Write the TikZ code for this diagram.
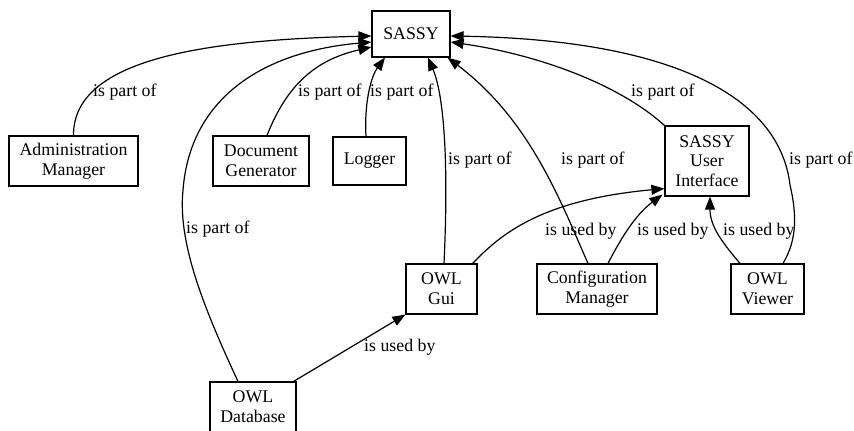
\documentclass[tikz,border=0pt]{standalone}
\usepackage{fontspec}
\setmainfont{Liberation Serif}
\newfontfamily\diagfont{Liberation Serif}
\usetikzlibrary{arrows.meta}
\begin{document}
\begin{tikzpicture}[x=1pt,y=-1pt,
  txt/.style={font=\diagfont\fontsize{17.8}{19.7}\selectfont},
  box/.style={txt, draw, line width=1.2pt, inner sep=0pt, align=center},
  lbl/.style={txt, anchor=west, inner sep=0pt},
  link/.style={line width=1.2pt, -{Triangle[length=13pt,width=10pt]}}]
\useasboundingbox (0,0) rectangle (854,431);

% components
\node[box, minimum width=78pt,  minimum height=46pt] (sassy)  at (411,34)    {SASSY};
\node[box, minimum width=129pt, minimum height=50pt] (admin)  at (73.5,161)  {Administration\\Manager};
\node[box, minimum width=96pt,  minimum height=50pt] (docgen) at (261,161)   {Document\\Generator};
\node[box, minimum width=73pt,  minimum height=48pt] (logger) at (369.5,161) {Logger};
\node[box, minimum width=84pt,  minimum height=70pt] (ui)     at (707,161)   {SASSY\\User\\Interface};
\node[box, minimum width=71pt,  minimum height=50pt] (gui)    at (441.5,289) {OWL\\Gui};
\node[box, minimum width=120pt, minimum height=50pt] (config) at (597,289)   {Configuration\\Manager};
\node[box, minimum width=73pt,  minimum height=50pt] (viewer) at (767.5,289) {OWL\\Viewer};
\node[box, minimum width=86pt,  minimum height=50pt] (db)     at (253,407)   {OWL\\Database};

% "is part of" relations
\draw[link] (admin.north) .. controls (73,60) and (200,40) .. ([yshift=-2pt]sassy.west);
\node[lbl] (l1) at (93,92) {is part of};

\draw[link] ([xshift=-15pt]db.north) .. controls (200,300) and (178,240) .. (183,190)
  .. controls (190,100) and (260,52) .. ([yshift=-8pt]sassy.west);
\node[lbl] (l2) at (186,229) {is part of};

\draw[link] ([xshift=6pt]docgen.north) .. controls (287,85) and (315,60) .. ([yshift=-13pt]sassy.west);
\node[lbl] (l3) at (298,92) {is part of};

\draw[link] ([xshift=-3.5pt]logger.north) .. controls (364,100) and (372,75) .. ([xshift=-26pt]sassy.south);
\node[lbl] (l4) at (370,92) {is part of};

\draw[link] ([xshift=2.5pt]gui.north) .. controls (448,180) and (446,100) .. ([xshift=17pt]sassy.south);
\node[lbl] (l5) at (448,160) {is part of};

\draw[link] ([xshift=-9pt]config.north) .. controls (560,200) and (530,120) .. ([xshift=-3pt]sassy.south east);
\node[lbl] (l6) at (561,160) {is part of};

\draw[link] (ui.north west) .. controls (620,85) and (540,55) .. ([yshift=-8pt]sassy.east);
\node[lbl] (l7) at (631,92) {is part of};

\draw[link] ([xshift=15.5pt]viewer.north) .. controls (797,240) and (797,215) .. (790,185)
  .. controls (780,100) and (680,40) .. ([yshift=-2pt]sassy.east);
\node[lbl] (l8) at (789,160) {is part of};

% "is used by" relations
\draw[link] ([xshift=-5pt]gui.north east) .. controls (500,235) and (540,200) .. ([yshift=8pt]ui.south west);
\node[lbl] (l9) at (545,231) {is used by};

\draw[link] ([xshift=11pt]config.north) .. controls (620,240) and (635,215) .. ([xshift=-2pt,yshift=2pt]ui.south west);
\node[lbl] (l10) at (637,231) {is used by};

\draw[link] ([xshift=-27.5pt]viewer.north) .. controls (720,240) and (710,225) .. ([xshift=3pt]ui.south);
\node[lbl] (l11) at (723,231) {is used by};

\draw[link] ([xshift=-3pt]db.north east) -- (gui.south west);
\node[lbl] (l12) at (364,347) {is used by};
\end{tikzpicture}
\end{document}
